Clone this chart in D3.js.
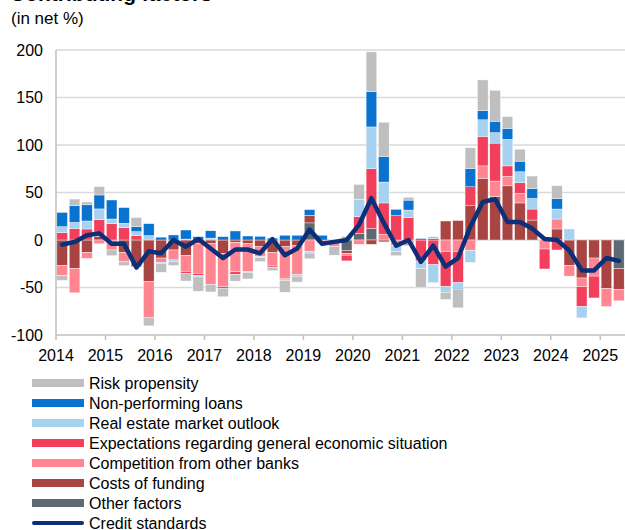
<!DOCTYPE html>
<html>
<head>
<meta charset="utf-8">
<script src="https://cdn.jsdelivr.net/npm/d3@7"></script>
<style>
  body { margin: 0; background: #fff; }
  svg text { font-family: "Liberation Sans", Arial, sans-serif; fill: #000; }
</style>
</head>
<body>
<svg id="chart" width="625" height="530"></svg>
<script>
// quarters 2014Q1 .. 2025Q2
const quarters = d3.range(46).map(i => 2014 + i / 4);
const yearTicks = d3.range(2014, 2026);
const yTicks = [-100, -50, 0, 50, 100, 150, 200];

const otherFactors = [0,0,0,0,0,0,0,0,0,0,0,0,0,0,0,0,0,0,0,0,18,0,0,-11,7,12,0,0,0,0,0,0,0,0,0,0,0,0,0,0,0,0,0,0,0,-30];
const costsOfFunding = [-27,-30,-13,4,0,-13,-28,-44,-19,-10.5,-16,-4,-4,-14,-2.5,-4,-7,-13,-7,-6,8,0,-1,-3,0,-4.5,-2,0,0,0,0,20,20.5,36,65,46,57,39,21,0,11.6,-27,-40,-19,-51,-22];
const competition = [-10.5,-25.6,-6.3,-4,-10.5,-10,0,-38,-4.5,-10.5,-17,-31,-43,-35,-31,-29,-10.5,-14.4,-34,-30.5,-12,-2,-6,-2,-4.5,0,6,-6,-6,0,0,-12,-12,-11,13,16,10,10,0,-9.5,10.5,-11,-9,-19,-19,-12];
const expectations = [7.7,12.3,11.6,17.5,17.5,13,4.6,0,0,0,-2.5,-2.5,0,-1.7,-2.8,0,0,-1.4,0,0,0,0,0,-6,17.5,63,33,25.6,23.5,-22,-26,-37,-33,20,31,40,11,11.2,11.6,-21,-10.5,0,-21,-23,0,0];
const realEstate = [6.3,6.3,8.4,11.2,4.6,4.6,4.2,4.6,-1,-1.4,1,-1.4,2,0,0,-1,-1,0,-1.4,-1.8,-1.8,0,0,0,18.2,44,22,-6,8,-8,-19,-6,-6,-12.6,17.5,11,28,11.6,11.2,0,10.5,11.6,-12,0,0,0];
const nonPerforming = [15,17.5,17,14.7,20,16.5,5.3,12.6,3,5.3,9.5,3.5,7.7,3.5,9.5,4.2,3.8,2,5,5,6,5,0,0,0,37,27,6.7,10.5,1.5,1.5,0,-1.4,19.3,10,12,11.6,11.2,10.5,0,11.2,0,0,0,0,0];
const riskPropensity = [-5,7,3,8.8,-6,-4,9.5,-8.4,-9.5,-4.5,-7.7,-15,-7.7,-9,-7,-7,-4.2,-3.5,-12.6,-6,-6,-1,-9,4,15.8,42,36,-4.5,3,-20,2,-7.7,-19,21.8,32,32.6,12.3,12.6,13,0,13.3,0,0,0,0,0];
const creditStandards = [-5,-2,5,7,-4,-4,-29,-12,-14,0,-7,1,-9,-19,-10,-10,-14,1,-16,-9,11,-4,-2,0,16,44,18,-6,0,-23,-6,-28,-19,14,40,43,19,19,12,1,0,-11,-32,-32,-19,-22];

const series = [
  { key: 'other', name: 'Other factors', values: otherFactors, color: '#5e6a72' },
  { key: 'costs', name: 'Costs of funding', values: costsOfFunding, color: '#a84442' },
  { key: 'competition', name: 'Competition from other banks', values: competition, color: '#ff8691' },
  { key: 'expectations', name: 'Expectations regarding general economic situation', values: expectations, color: '#f23f5b' },
  { key: 'realEstate', name: 'Real estate market outlook', values: realEstate, color: '#a6d1ef' },
  { key: 'npl', name: 'Non-performing loans', values: nonPerforming, color: '#0a72cf' },
  { key: 'risk', name: 'Risk propensity', values: riskPropensity, color: '#bfbfbf' }
];
const lineColor = '#0b2f78';

const margin = { top: 50, left: 56 };
const plotW = 569, plotH = 285;

const svg = d3.select('#chart');

// title sits mostly above the top edge, only its bottom shows
svg.append('text')
  .attr('x', 10).attr('y', 0.5)
  .attr('font-size', 21).attr('font-weight', 'bold')
  .text('Contributing factors');

svg.append('text')
  .attr('x', 11).attr('y', 24)
  .attr('font-size', 17)
  .text('(in net %)');

const g = svg.append('g').attr('transform', `translate(${margin.left},${margin.top})`);

const x = d3.scaleBand().domain(d3.range(quarters.length)).range([0, plotW]).paddingInner(0.14).paddingOuter(0.07);
const xTime = d3.scaleLinear().domain([2014, 2014 + quarters.length / 4]).range([0, plotW]);
const y = d3.scaleLinear().domain([-100, 200]).range([plotH, 0]);

// gridlines
g.append('g').selectAll('line')
  .data(yTicks.filter(d => d > -100))
  .join('line')
  .attr('x1', 0).attr('x2', plotW)
  .attr('y1', d => y(d)).attr('y2', d => y(d))
  .attr('stroke', '#d9d9d9').attr('stroke-width', 1.5);

// y labels
g.append('g').selectAll('text')
  .data(yTicks)
  .join('text')
  .attr('x', -13).attr('y', d => y(d) + 5.5)
  .attr('text-anchor', 'end')
  .attr('font-size', 16)
  .text(d => d);

// stacked bars
const rows = quarters.map((q, i) => {
  const r = { i };
  series.forEach(s => { r[s.key] = s.values[i]; });
  return r;
});
const stack = d3.stack().keys(series.map(s => s.key)).offset(d3.stackOffsetDiverging);
const layers = stack(rows);

g.append('g').selectAll('g')
  .data(layers)
  .join('g')
  .attr('fill', (d, k) => series[k].color)
  .selectAll('rect')
  .data(d => d.filter(p => p[1] !== p[0]))
  .join('rect')
  .attr('x', d => x(d.data.i))
  .attr('width', x.bandwidth())
  .attr('y', d => y(Math.max(d[0], d[1])))
  .attr('height', d => Math.abs(y(d[0]) - y(d[1])))
  .attr('stroke', '#fff').attr('stroke-width', 0.4);

// axes lines
g.append('line')
  .attr('x1', 0).attr('x2', 0).attr('y1', 0).attr('y2', plotH)
  .attr('stroke', '#bfbfbf').attr('stroke-width', 1.5);
g.append('line')
  .attr('x1', 0).attr('x2', plotW).attr('y1', plotH).attr('y2', plotH)
  .attr('stroke', '#bfbfbf').attr('stroke-width', 1.5);

// x ticks and labels
const xt = g.append('g').attr('transform', `translate(0,${plotH})`);
xt.selectAll('line')
  .data(yearTicks)
  .join('line')
  .attr('x1', d => xTime(d)).attr('x2', d => xTime(d))
  .attr('y1', 0).attr('y2', 5)
  .attr('stroke', '#bfbfbf').attr('stroke-width', 1.5);
xt.selectAll('text')
  .data(yearTicks)
  .join('text')
  .attr('x', d => xTime(d)).attr('y', 26)
  .attr('text-anchor', 'middle')
  .attr('font-size', 16)
  .text(d => d);

// credit standards line
const line = d3.line()
  .x((d, i) => x(i) + x.bandwidth() / 2)
  .y(d => y(d));
g.append('path')
  .datum(creditStandards)
  .attr('d', line)
  .attr('fill', 'none')
  .attr('stroke', lineColor)
  .attr('stroke-width', 4.5)
  .attr('stroke-linejoin', 'round')
  .attr('stroke-linecap', 'round');

// legend
const legendItems = series.slice().reverse().map(s => ({ name: s.name, color: s.color, type: 'bar' }))
  .concat([{ name: 'Credit standards', color: lineColor, type: 'line' }]);
const legend = svg.append('g').attr('transform', 'translate(32,383)');
const li = legend.selectAll('g')
  .data(legendItems)
  .join('g')
  .attr('transform', (d, i) => `translate(0,${i * 20})`);
li.append('rect')
  .attr('x', 0)
  .attr('y', d => d.type === 'line' ? -2 : -4)
  .attr('width', 52)
  .attr('height', d => d.type === 'line' ? 4 : 8)
  .attr('rx', d => d.type === 'line' ? 2 : 0)
  .attr('fill', d => d.color);
li.append('text')
  .attr('x', 57).attr('y', 6)
  .attr('font-size', 16)
  .text(d => d.name);
</script>
</body>
</html>
